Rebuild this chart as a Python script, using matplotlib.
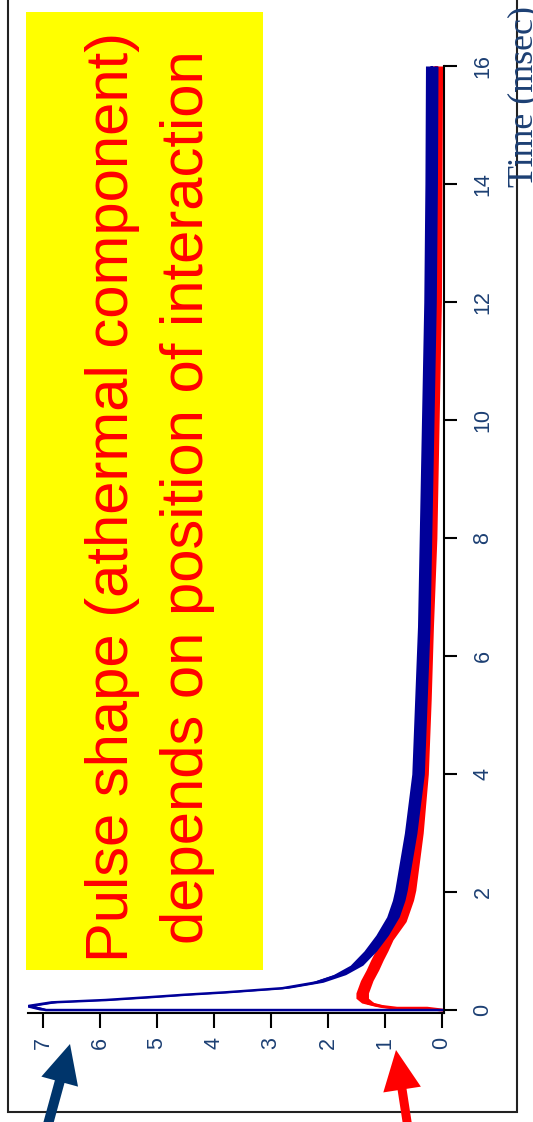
import matplotlib
matplotlib.use("Agg")
import matplotlib.pyplot as plt
import numpy as np
from matplotlib.patches import Rectangle, FancyArrow

plt.rcParams['font.family'] = ['Liberation Sans', 'DejaVu Sans']

# ---- data (time in msec, amplitude) ----
blue_t = [0.0, 0.0, 0.07, 0.13, 0.17, 0.22, 0.26, 0.30, 0.37, 0.47, 0.60, 0.76,
          1.00, 1.27, 1.58, 1.86, 2.03, 3.0, 4.0, 5.25, 6.5, 8.0, 10.0, 12.0, 14.0, 16.0]
blue_v = [0.0, 6.95, 7.25, 6.85, 5.9, 5.1, 4.5, 3.8, 2.8, 2.2, 1.8, 1.5,
          1.26, 1.05, 0.86, 0.76, 0.72, 0.55, 0.42, 0.37, 0.32, 0.29, 0.25, 0.21, 0.19, 0.18]
red_t = [0.0, 0.03, 0.03, 0.06, 0.12, 0.20, 0.29, 0.50, 0.68, 0.85, 1.00, 1.19,
         1.50, 1.86, 2.03, 3.0, 4.0, 5.25, 6.5, 8.0, 10.0, 12.0, 14.0, 16.0]
red_v = [0.0, 0.26, 0.79, 1.05, 1.3, 1.4, 1.4, 1.32, 1.22, 1.14, 1.06, 0.97,
         0.74, 0.61, 0.57, 0.44, 0.35, 0.30, 0.26, 0.20, 0.16, 0.12, 0.11, 0.10]
noise_half = 0.11

value_ticks = [0, 1, 2, 3, 4, 5, 6, 7]
time_ticks = [0, 2, 4, 6, 8, 10, 12, 14, 16]
title_lines = ["Pulse shape (athermal component)", "depends on position of interaction"]
axis_label = "Time (msec)"

W, H = 533, 1122
fig = plt.figure(figsize=(W / 100, H / 100), dpi=100)
fig.patch.set_facecolor('white')

navy = '#1c3f73'
blue = '#000099'
red = '#ff0000'

# main axes (rotated chart: horizontal = amplitude, vertical = time)
L, R, T, B = 28, 444, 66, 1013
ax = fig.add_axes([L / W, (H - B) / H, (R - L) / W, (B - T) / H])
ax.set_xlim(7.263, -0.035)
ax.set_ylim(-0.05, 16.0)

rt = np.array(red_t); rv = np.array(red_v)
bt = np.array(blue_t); bv = np.array(blue_v)
ax.fill_betweenx(rt, rv - noise_half, rv + noise_half, color=red, lw=0, zorder=2)
ax.plot(rv, rt, color=red, lw=2.2, zorder=2)
ax.fill_betweenx(bt, bv - noise_half, bv + noise_half, color=blue, lw=0, zorder=3)
ax.plot(bv, bt, color=blue, lw=1.8, zorder=3)

for s in ['top', 'left']:
    ax.spines[s].set_visible(False)
for s in ['bottom', 'right']:
    ax.spines[s].set_linewidth(1.5)
ax.yaxis.tick_right()
ax.set_xticks(value_ticks)
ax.set_xticklabels([str(v) for v in value_ticks], rotation=90)
ax.set_yticks(time_ticks)
ax.set_yticklabels([str(v) for v in time_ticks], rotation=90, va='center')
ax.tick_params(axis='x', direction='out', length=10.5, width=1.5, pad=7,
               labelsize=15.5, labelcolor=navy)
ax.tick_params(axis='y', direction='out', length=9.5, width=1.5, pad=11,
               labelsize=15.5, labelcolor=navy)

# overlay in pixel coordinates
ov = fig.add_axes([0, 0, 1, 1])
ov.set_xlim(0, W)
ov.set_ylim(H, 0)
ov.axis('off')

# outer frame
ov.add_patch(Rectangle((8, -20), 509, 1132, fill=False, ec='#222222', lw=1.5))

# yellow box with red text
ov.add_patch(Rectangle((26, 12), 237, 958, fc='#ffff00', ec='none'))
ov.text(128, 497, title_lines[0], rotation=90, rotation_mode='anchor',
        ha='center', va='baseline', color=red, fontsize=43)
ov.text(203, 497, title_lines[1], rotation=90, rotation_mode='anchor',
        ha='center', va='baseline', color=red, fontsize=43)

# axis label
ov.text(532, 187, axis_label, rotation=90, rotation_mode='anchor',
        ha='left', va='baseline', color=navy, fontsize=25.8,
        family=['Liberation Serif', 'DejaVu Serif'])

# arrows
ov.add_patch(FancyArrow(47, 1128, 23, -84, width=10, head_width=38, head_length=39,
                        length_includes_head=True, color='#00356b', lw=0))
ov.add_patch(FancyArrow(408, 1128, -12, -78, width=9, head_width=38, head_length=40,
                        length_includes_head=True, color=red, lw=0))

fig.savefig('out.png', dpi=100, facecolor='white')
